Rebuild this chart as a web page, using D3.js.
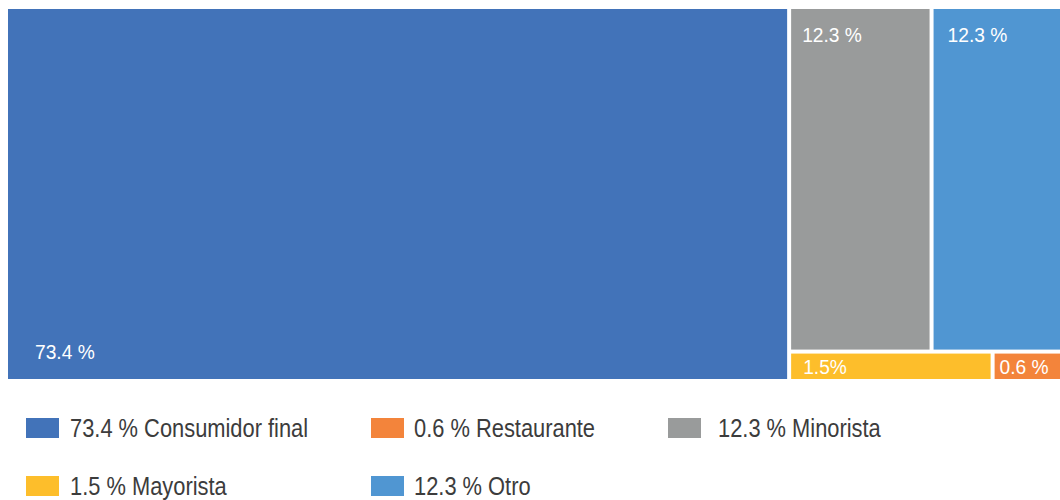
<!DOCTYPE html>
<html><head><meta charset="utf-8">
<script src="https://cdn.jsdelivr.net/npm/d3@7"></script>
<style>
html,body{margin:0;padding:0;background:#fff;overflow:hidden}
svg{display:block}
text{font-family:"Liberation Sans",Arial,Helvetica,sans-serif}
</style></head>
<body>
<svg id="chart" width="1060" height="500"></svg>
<script>
const categories = ["Consumidor final", "Minorista", "Otro", "Mayorista", "Restaurante"];
const values = [73.4, 12.3, 12.3, 1.5, 0.6];
const boxLabels = ["73.4 %", "12.3 %", "12.3 %", "1.5%", "0.6 %"];
const legendOrder = ["Consumidor final", "Restaurante", "Minorista", "Mayorista", "Otro"];
const legendLabels = ["73.4 % Consumidor final", "0.6 % Restaurante", "12.3 % Minorista", "1.5 % Mayorista", "12.3 % Otro"];
const colors = {"Consumidor final":"#4273B9","Minorista":"#999B9B","Otro":"#5096D2","Mayorista":"#FDBE2B","Restaurante":"#F3843B"};

const svg = d3.select("#chart");
const root = d3.hierarchy({children: categories.map((c,i)=>({name:c, value:values[i], label:boxLabels[i]}))})
  .sum(d => d.value || 0)
  .sort((a,b) => b.value - a.value);

d3.treemap().tile(d3.treemapSquarify).size([1064, 370]).paddingInner(4)(root);

const g = svg.append("g").attr("transform","translate(8,9)");
const leaves = root.leaves();
g.selectAll("rect").data(leaves).join("rect")
  .attr("x", d=>d.x0).attr("y", d=>d.y0)
  .attr("width", d=>d.x1-d.x0).attr("height", d=>d.y1-d.y0)
  .attr("fill", d=>colors[d.data.name]);

// label placement offsets per category (styling)
const labelPos = {
  "Consumidor final": d => [d.x0+27, d.y1-20],
  "Minorista": d => [d.x0+11, d.y0+33],
  "Otro": d => [d.x0+14, d.y0+33],
  "Mayorista": d => [d.x0+12, d.y1-5],
  "Restaurante": d => [d.x0+5, d.y1-5]
};
g.selectAll("text.lbl").data(leaves).join("text").attr("class","lbl")
  .attr("transform", d=>{const p = labelPos[d.data.name](d); return `translate(${p[0]},${p[1]}) scale(0.96,1)`;})
  .attr("fill","#fff").attr("font-size",20)
  .text(d=>d.data.label);

// legend
const colX = [26, 371, 668];
const textX = [70, 414, 718];
const rowY = [418, 476];
const lg = svg.append("g");
legendOrder.forEach((name,i)=>{
  const c = i % 3, r = Math.floor(i/3);
  lg.append("rect").attr("x",colX[c]).attr("y",rowY[r]).attr("width",33).attr("height",20).attr("fill",colors[name]);
  lg.append("text").attr("transform",`translate(${textX[c]},${rowY[r]+19}) scale(0.875,1)`)
    .attr("font-size",25).attr("fill","#3c3c3c").text(legendLabels[i]);
});
</script>
</body></html>
